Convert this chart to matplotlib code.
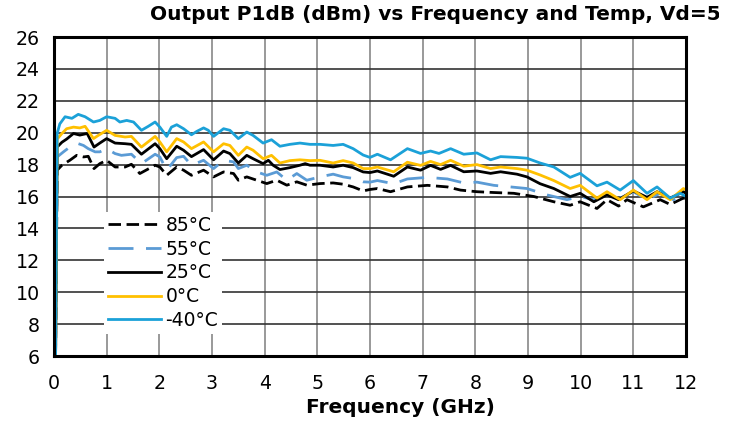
import numpy as np
from matplotlib import pyplot as plt
from matplotlib.transforms import Bbox

# frequency grids (GHz) and P1dB (dBm), one list per temperature
f_m40 = [0.03, 0.06, 0.11, 0.21, 0.34, 0.46, 0.59, 0.75, 0.87, 1.00, 1.16, 1.25, 1.38, 1.51, 1.66, 1.79, 1.92,
         2.01, 2.14, 2.23, 2.33, 2.46, 2.61, 2.71, 2.84, 2.93, 3.03, 3.22, 3.34, 3.50, 3.66, 3.78, 3.97, 4.13,
         4.29, 4.48, 4.67, 4.86, 5.05, 5.30, 5.49, 5.68, 5.87, 6.00, 6.14, 6.39, 6.71, 6.96, 7.15, 7.31, 7.53,
         7.78, 8.03, 8.29, 8.48, 8.79, 8.98, 9.23, 9.49, 9.80, 9.99, 10.31, 10.50, 10.75, 11.00, 11.26, 11.45,
         11.70, 11.89, 12.00]
p_m40 = [6.0, 19.95, 20.55, 21.0, 20.9, 21.15, 21.0, 20.67, 20.77, 21.0, 20.9, 20.67, 20.77, 20.67, 20.15, 20.4,
         20.67, 20.35, 19.77, 20.35, 20.5, 20.25, 19.87, 20.08, 20.3, 20.15, 19.77, 20.25, 20.15, 19.63, 20.04,
         19.83, 19.35, 19.56, 19.15, 19.27, 19.35, 19.27, 19.27, 19.2, 19.27, 19.0, 18.6, 18.45, 18.65, 18.3,
         19.0, 18.7, 18.85, 18.7, 19.0, 18.65, 18.73, 18.3, 18.5, 18.45, 18.4, 18.1, 17.85, 17.2, 17.45, 16.67,
         16.9, 16.4, 17.0, 16.2, 16.6, 15.9, 16.2, 16.0]

f_0 = [0.03, 0.06, 0.15, 0.24, 0.37, 0.49, 0.59, 0.75, 0.84, 1.00, 1.16, 1.35, 1.47, 1.66, 1.92, 2.01, 2.14,
       2.33, 2.46, 2.61, 2.84, 3.03, 3.22, 3.34, 3.50, 3.66, 3.78, 3.97, 4.13, 4.29, 4.48, 4.67, 4.86, 5.05,
       5.30, 5.49, 5.68, 5.87, 6.00, 6.14, 6.45, 6.71, 6.96, 7.15, 7.34, 7.53, 7.78, 8.03, 8.29, 8.48, 8.79,
       8.98, 9.23, 9.49, 9.80, 9.99, 10.31, 10.50, 10.75, 11.00, 11.26, 11.45, 11.70, 11.95, 12.00]
p_0 = [6.0, 19.6, 19.95, 20.25, 20.35, 20.3, 20.4, 19.63, 19.83, 20.15, 19.83, 19.73, 19.77, 19.1, 19.77, 19.42,
       18.8, 19.63, 19.42, 19.0, 19.42, 18.8, 19.31, 19.2, 18.58, 19.1, 18.9, 18.37, 18.58, 18.1, 18.25, 18.3,
       18.25, 18.27, 18.1, 18.25, 18.1, 17.75, 17.75, 17.85, 17.55, 18.15, 17.95, 18.2, 18.0, 18.27, 17.9, 18.0,
       17.75, 17.85, 17.75, 17.65, 17.35, 17.0, 16.5, 16.7, 15.9, 16.3, 15.8, 16.4, 15.8, 16.3, 15.8, 16.5, 16.4]

f_25 = [0.03, 0.06, 0.15, 0.24, 0.37, 0.49, 0.63, 0.76, 0.87, 1.00, 1.16, 1.35, 1.47, 1.66, 1.92, 2.01, 2.14,
        2.33, 2.46, 2.61, 2.84, 3.03, 3.22, 3.34, 3.50, 3.66, 3.78, 3.97, 4.07, 4.16, 4.29, 4.48, 4.67, 4.77,
        4.86, 5.05, 5.30, 5.49, 5.68, 5.87, 6.00, 6.14, 6.45, 6.71, 6.96, 7.15, 7.34, 7.53, 7.78, 8.03, 8.29,
        8.48, 8.79, 8.98, 9.23, 9.49, 9.80, 9.99, 10.25, 10.50, 10.72, 11.00, 11.26, 11.45, 11.70, 11.95, 12.00]
p_25 = [6.0, 19.1, 19.4, 19.6, 19.95, 19.85, 19.95, 19.1, 19.35, 19.63, 19.35, 19.31, 19.27, 18.65, 19.31, 19.0,
        18.37, 19.15, 18.9, 18.5, 18.94, 18.3, 18.85, 18.69, 18.1, 18.58, 18.37, 18.06, 18.27, 17.96, 17.69,
        17.81, 17.96, 18.06, 17.96, 17.96, 17.85, 17.96, 17.81, 17.54, 17.5, 17.6, 17.27, 17.85, 17.65, 17.95,
        17.7, 17.95, 17.55, 17.6, 17.45, 17.55, 17.4, 17.23, 16.8, 16.5, 16.0, 16.2, 15.67, 16.1, 15.8, 16.35,
        15.95, 16.3, 15.9, 16.3, 16.2]

f_55 = [0.03, 0.06, 0.18, 0.30, 0.43, 0.56, 0.65, 0.78, 0.87, 1.00, 1.16, 1.28, 1.47, 1.66, 1.92, 2.01, 2.14,
        2.33, 2.46, 2.61, 2.84, 3.03, 3.22, 3.41, 3.50, 3.66, 3.85, 4.04, 4.23, 4.42, 4.61, 4.80, 5.05, 5.30,
        5.49, 5.68, 5.87, 6.00, 6.14, 6.45, 6.71, 7.09, 7.47, 7.78, 8.03, 8.35, 8.67, 8.98, 9.36, 9.74, 9.99,
        10.25, 10.50, 10.75, 11.00, 11.26, 11.51, 11.76, 12.00]
p_55 = [6.0, 18.48, 18.8, 19.1, 19.35, 19.2, 19.0, 18.8, 18.8, 19.0, 18.69, 18.58, 18.65, 18.06, 18.65, 18.48,
        17.65, 18.44, 18.52, 17.96, 18.27, 17.75, 18.27, 18.17, 17.75, 17.96, 17.54, 17.33, 17.54, 17.02, 17.44,
        17.02, 17.23, 17.4, 17.23, 17.13, 16.92, 16.9, 17.0, 16.8, 17.1, 17.2, 17.1, 16.85, 16.9, 16.7, 16.6,
        16.5, 16.1, 15.8, 16.0, 15.8, 16.1, 15.9, 16.3, 15.8, 16.2, 15.8, 16.0]

f_85 = [0.03, 0.06, 0.15, 0.30, 0.43, 0.56, 0.65, 0.76, 0.87, 1.00, 1.16, 1.35, 1.47, 1.63, 1.92, 2.01, 2.14,
        2.33, 2.46, 2.61, 2.84, 3.03, 3.22, 3.41, 3.50, 3.66, 3.85, 4.04, 4.23, 4.42, 4.61, 4.80, 5.05, 5.30,
        5.49, 5.68, 5.87, 6.00, 6.14, 6.39, 6.71, 7.09, 7.47, 7.72, 8.03, 8.35, 8.73, 9.11, 9.49, 9.80, 9.99,
        10.31, 10.50, 10.72, 10.88, 11.19, 11.51, 11.70, 11.95, 12.00]
p_85 = [6.0, 17.65, 17.96, 18.27, 18.58, 18.48, 18.52, 17.75, 18.06, 18.27, 17.85, 17.85, 18.02, 17.44, 17.96,
        17.85, 17.33, 17.85, 17.65, 17.33, 17.65, 17.23, 17.54, 17.44, 17.02, 17.23, 17.02, 16.81, 17.02, 16.71,
        16.92, 16.71, 16.81, 16.85, 16.77, 16.6, 16.35, 16.44, 16.5, 16.3, 16.6, 16.7, 16.6, 16.4, 16.3, 16.25,
        16.2, 16.0, 15.67, 15.45, 15.67, 15.25, 15.8, 15.4, 15.8, 15.35, 15.8, 15.5, 15.9, 15.85]

x_ticks = list(range(0, 13))
y_ticks = list(range(6, 27, 2))

fig = plt.figure(figsize=(7.37, 4.23), dpi=100)
ax = fig.add_axes([54 / 737, 1 - 356 / 423, (686 - 54) / 737, (356 - 37) / 423])

ax.plot(f_85, p_85, color='black', lw=2, dashes=(4.5, 2), label='85°C', zorder=3)
ax.plot(f_55, p_55, color='#5B9BD5', lw=2, dashes=(9, 4.5), label='55°C', zorder=3)
ax.plot(f_25, p_25, color='black', lw=2, label='25°C', zorder=3)
ax.plot(f_0, p_0, color='#FFC000', lw=2, label='0°C', zorder=3)
ax.plot(f_m40, p_m40, color='#1BA1D8', lw=2, label='-40°C', zorder=3)

ax.set_xlim(0, 12)
ax.set_ylim(6, 26)
ax.set_xticks(x_ticks)
ax.set_yticks(y_ticks)
ax.tick_params(length=0, labelsize=13.7)
ax.tick_params(axis='y', pad=10)
ax.tick_params(axis='x', pad=13)
ax.xaxis.grid(True, color='#888888', lw=1.2)
ax.yaxis.grid(True, color='#333333', lw=1.2)
ax.set_axisbelow(True)
for s in ax.spines.values():
    s.set_linewidth(2.2)
    s.set_zorder(4)

leg = ax.legend(loc='upper left', bbox_to_anchor=(0.065, 0.48), frameon=True, fancybox=False,
                edgecolor='none', facecolor='white', framealpha=1, fontsize=13.5,
                handlelength=2.8, handletextpad=0.25, labelspacing=0.25, borderpad=0.2)

# title runs past the chart area in the original and gets cut off there
title = fig.text(150 / 737, 1 - 19.5 / 423, 'Output P1dB (dBm) vs Frequency and Temp, Vd=5V',
                 fontsize=14.5, fontweight='bold', ha='left', va='baseline')
title.set_clip_box(Bbox.from_extents(0, 0, 719, 423))
title.set_clip_on(True)
fig.text(400 / 737, 1 - 413 / 423, 'Frequency (GHz)', fontsize=14.5, fontweight='bold',
         ha='center', va='baseline')

fig.savefig('out.png', dpi=100)
